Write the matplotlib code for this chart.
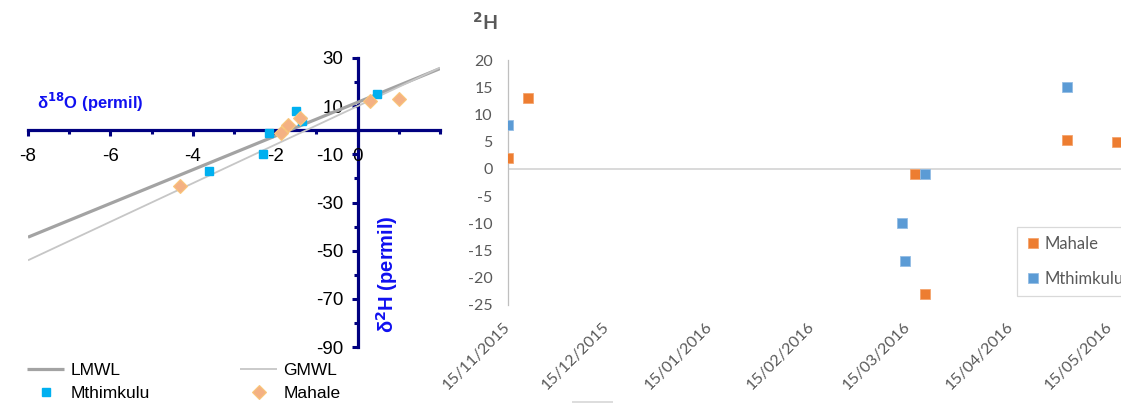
import matplotlib
matplotlib.use("Agg")
import matplotlib.pyplot as plt
import matplotlib.dates as mdates
from matplotlib.patches import Rectangle
from matplotlib.ticker import FixedLocator
import datetime as dt

plt.rcParams["axes.unicode_minus"] = False

# ---------------- data ----------------
# dual-isotope plot (delta18O vs delta2H, permil)
mth_o18 = [-2.15, -2.3, -3.6, -1.5, -1.36, 0.48]
mth_h2 = [-1.0, -10.0, -17.0, 8.0, 4.0, 15.0]
mah_o18 = [-4.3, -1.85, -1.7, -1.4, 0.3, 1.0]
mah_h2 = [-23.0, -1.0, 2.0, 5.0, 12.0, 13.0]

# meteoric water lines: delta2H = slope * delta18O + intercept
lmwl_slope, lmwl_intercept = 7.0, 11.6
gmwl_slope, gmwl_intercept = 8.0, 10.0
line_o18 = [-8.0, 2.0]

# delta2H time series by sampling date
mah_dates = ["2015-11-15", "2015-11-21", "2016-03-17", "2016-03-20", "2016-05-02", "2016-05-17"]
mah_vals = [2.0, 13.0, -1.0, -23.0, 5.3, 5.0]
mth_dates = ["2015-11-15", "2016-03-13", "2016-03-14", "2016-03-20", "2016-05-02"]
mth_vals = [8.0, -10.0, -17.0, -1.0, 15.0]

date_ticks = ["2015-11-15", "2015-12-15", "2016-01-15", "2016-02-15",
              "2016-03-15", "2016-04-15", "2016-05-15"]

# ---------------- figure ----------------
W, H = 1121, 403
fig = plt.figure(figsize=(W / 100, H / 100), dpi=100)
fig.patch.set_facecolor("white")

NAVY = "#000080"
BLUE = "#1010F0"
LEFT_FONT = "Liberation Sans"
RIGHT_FONT = "Lato"

# ---- left panel: delta18O vs delta2H ----
axL = fig.add_axes([28 / W, 1 - 347 / H, 412 / W, 289 / H])
axL.set_xlim(-8, 2)
axL.set_ylim(-90, 30)
axL.patch.set_alpha(0)

for s in ("top", "right"):
    axL.spines[s].set_visible(False)
axL.spines["left"].set_position(("data", 0))
axL.spines["bottom"].set_position(("data", 0))
for s in ("left", "bottom"):
    axL.spines[s].set_color(NAVY)
    axL.spines[s].set_linewidth(2.3)
    axL.spines[s].set_zorder(1)

axL.xaxis.set_major_locator(FixedLocator([-8, -6, -4, -2, 0]))
axL.xaxis.set_minor_locator(FixedLocator([-7, -5, -3, -1, 1, 2]))
axL.yaxis.set_major_locator(FixedLocator([30, 10, -10, -30, -50, -70, -90]))
axL.yaxis.set_minor_locator(FixedLocator([20, 0, -20, -40, -60, -80]))
axL.tick_params(which="both", direction="out", color=NAVY, width=2.2)
axL.tick_params(which="major", length=4)
axL.tick_params(which="minor", length=3)
axL.tick_params(axis="x", which="major", pad=9, labelsize=13.5)
axL.tick_params(axis="y", which="major", pad=6, labelsize=13.5)
for lab in axL.get_xticklabels() + axL.get_yticklabels():
    lab.set_fontfamily(LEFT_FONT)

lmwl_h2 = [lmwl_slope * x + lmwl_intercept for x in line_o18]
gmwl_h2 = [gmwl_slope * x + gmwl_intercept for x in line_o18]
l_lmwl, = axL.plot(line_o18, lmwl_h2, color="#A3A3A3", lw=2.3, zorder=2, label="LMWL",
                   solid_capstyle="butt")
l_gmwl, = axL.plot(line_o18, gmwl_h2, color="#C6C6C6", lw=1.3, zorder=2, label="GMWL",
                   solid_capstyle="butt")
l_mth, = axL.plot(mth_o18, mth_h2, ls="none", marker="s", ms=5.2, color="#00B0F0",
                  mec="#00B0F0", zorder=3, label="Mthimkulu")
l_mah, = axL.plot(mah_o18, mah_h2, ls="none", marker="D", ms=6.8, color="#F4B183",
                  mec="#F9C77A", mew=0.8, zorder=4, label="Mahale")

fig.text(90 / W, 1 - 102 / H, r"δ$^{\mathbf{18}}$O (permil)", color=BLUE, fontsize=12,
         fontweight="bold", family=LEFT_FONT, ha="center", va="center")
fig.text(387 / W, 1 - 274 / H, r"δ$^{\mathbf{2}}$H (permil)", color=BLUE, fontsize=14.5,
         fontweight="bold", family=LEFT_FONT, ha="center", va="center", rotation=90)

legL = fig.legend(handles=[l_lmwl, l_mth, l_gmwl, l_mah], ncol=2, loc="upper left",
                  bbox_to_anchor=(27 / W, 1 - 363 / H), frameon=False,
                  prop={"family": LEFT_FONT, "size": 12.5}, handlelength=2.15,
                  handletextpad=0.35, columnspacing=5.2, labelspacing=0.45,
                  borderpad=0.0, borderaxespad=0.0)

# ---- right panel: delta2H through time ----
px_per_day = 3.308
x0 = dt.date(2015, 11, 15)
x1 = dt.date(2016, 6, 15)
width_px = (x1 - x0).days * px_per_day
axR = fig.add_axes([508 / W, 1 - 305 / H, width_px / W, 245 / H])
axR.set_xlim(mdates.date2num(x0), mdates.date2num(x1))
axR.set_ylim(-25, 20)
axR.patch.set_alpha(0)
for s in ("top", "right", "bottom"):
    axR.spines[s].set_visible(False)
axR.spines["left"].set_color("#BFBFBF")
axR.spines["left"].set_linewidth(0.9)
axR.axhline(0, color="#D9D9D9", lw=1.4, zorder=1)

GREY_TXT = "#595959"
axR.set_yticks(range(-25, 21, 5))
axR.set_xticks([mdates.date2num(dt.date.fromisoformat(d)) for d in date_ticks])
axR.xaxis.set_major_formatter(mdates.DateFormatter("%d/%m/%Y"))
axR.tick_params(length=0, labelcolor=GREY_TXT, labelsize=11.5)
axR.tick_params(axis="y", pad=11)
axR.tick_params(axis="x", pad=14)
for lab in axR.get_yticklabels():
    lab.set_fontfamily(RIGHT_FONT)
for lab in axR.get_xticklabels():
    lab.set_fontfamily(RIGHT_FONT)
    lab.set_rotation(45)
    lab.set_ha("right")
    lab.set_va("center")
    lab.set_rotation_mode("anchor")

mah_x = [mdates.date2num(dt.date.fromisoformat(d)) for d in mah_dates]
mth_x = [mdates.date2num(dt.date.fromisoformat(d)) for d in mth_dates]
r_mah, = axR.plot(mah_x, mah_vals, ls="none", marker="s", ms=7.5, color="#ED7D31",
                  mec="#F4A46E", mew=0.6, zorder=3, label="Mahale")
r_mth, = axR.plot(mth_x, mth_vals, ls="none", marker="s", ms=7.5, color="#5B9BD5",
                  mec="#93BDE5", mew=0.6, zorder=4, label="Mthimkulu")

fig.text(485 / W, 1 - 22 / H, r"$^{\mathbf{2}}$H", color=GREY_TXT, fontsize=14,
         fontweight="bold", family=RIGHT_FONT, ha="center", va="center")

legR = fig.legend(handles=[r_mah, r_mth], loc="upper left",
                  bbox_to_anchor=(1017 / W, 1 - 227 / H), frameon=True, fancybox=False,
                  edgecolor="#D9D9D9", framealpha=1,
                  prop={"family": RIGHT_FONT, "size": 12}, labelcolor=GREY_TXT,
                  handlelength=0.8, handletextpad=0.3, labelspacing=1.1,
                  borderpad=0.55, borderaxespad=0.0)
legR.get_frame().set_linewidth(0.9)

# thin grey bar along the lower edge
fig.add_artist(Rectangle((572 / W, 0), 41 / W, 2.5 / H, transform=fig.transFigure,
                         facecolor="#DDDDDD", edgecolor="none"))

fig.savefig("out.png", dpi=100)
